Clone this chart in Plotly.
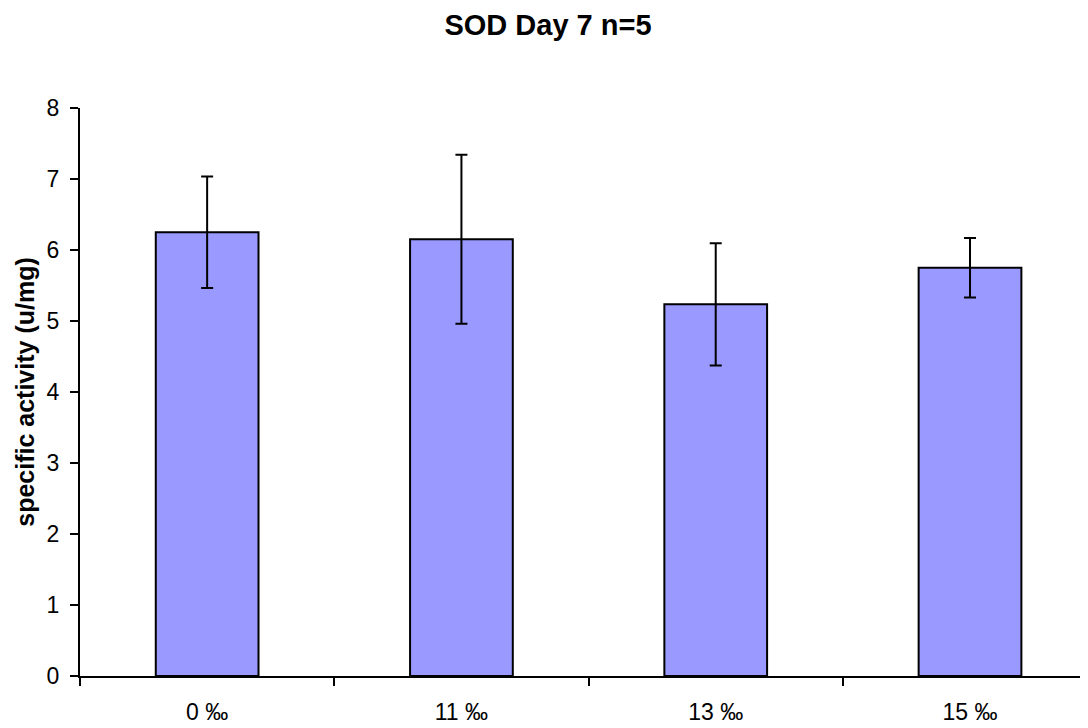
import plotly.graph_objects as go

categories = ["0 ‰", "11 ‰", "13 ‰", "15 ‰"]
values = [6.25, 6.15, 5.235, 5.75]
errors = [0.785, 1.19, 0.86, 0.42]
y_ticks = [0, 1, 2, 3, 4, 5, 6, 7, 8]

fig = go.Figure()
fig.add_trace(go.Bar(
    x=categories, y=values,
    width=0.404,
    marker=dict(color="#9999FF", line=dict(color="black", width=2)),
    error_y=dict(type="data", array=errors, visible=True, color="black", thickness=2, width=6),
))

fig.update_layout(
    width=1080, height=720,
    paper_bgcolor="white", plot_bgcolor="white",
    margin=dict(l=72, r=0, t=100, b=51.5),
    font=dict(family="Liberation Sans, Arial, sans-serif", size=22, color="black"),
    title=dict(text="<b>SOD Day 7 n=5</b>", x=0.5, xanchor="center", y=1 - 17 / 720, yanchor="middle",
               font=dict(size=29, color="black")),
    showlegend=False,
)
fig.update_xaxes(
    type="category", range=[-0.5, 3.464],
    showline=True, linecolor="black", linewidth=2,
    ticks="outside", tickson="boundaries", ticklen=8, tickcolor="black", tickwidth=2,
    showgrid=False, tickfont=dict(size=23), ticklabelstandoff=14,
)
fig.update_yaxes(
    range=[0, 8], tickvals=y_ticks,
    showline=True, linecolor="black", linewidth=2,
    ticks="outside", ticklen=8, tickcolor="black", tickwidth=2,
    showgrid=False, zeroline=False, tickfont=dict(size=23), ticklabelstandoff=6,
    title=dict(text="<b>specific activity (u/mg)</b>", font=dict(size=25), standoff=5),
)

fig.write_html("out.html")
